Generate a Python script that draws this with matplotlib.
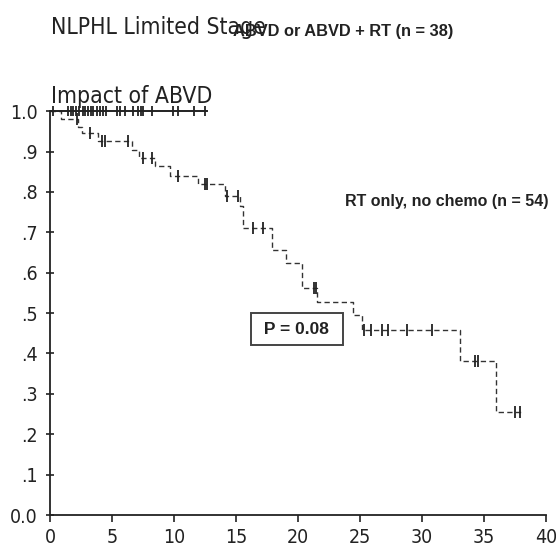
import numpy as np
import matplotlib
matplotlib.use("Agg")
import matplotlib.pyplot as plt

# Kaplan-Meier data, months on the x axis
abvd_times = [0, 12.7]
abvd_surv = [1.0, 1.0]
abvd_censor = [0.25, 1.45, 1.7, 1.85, 2.1, 2.35, 2.65, 2.8, 3.05, 3.3, 3.45, 3.8,
               4.05, 4.3, 4.5, 5.4, 5.65, 6.05, 6.7, 7.1, 7.35, 7.5, 8.2, 9.9,
               10.3, 11.6, 12.5]

rt_times = [0, 0.9, 2.25, 2.6, 3.9, 6.6, 7.2, 8.5, 9.7, 11.9, 14.1, 15.3, 15.6,
            17.9, 19.0, 20.3, 21.5, 24.4, 25.2, 33.1, 36.0, 38.1]
rt_surv = [1.0, 0.98, 0.96, 0.945, 0.925, 0.905, 0.885, 0.865, 0.84, 0.82, 0.79,
           0.765, 0.71, 0.655, 0.625, 0.562, 0.527, 0.495, 0.458, 0.382, 0.255,
           0.255]
rt_censor = [2.2, 3.2, 4.2, 4.4, 6.3, 7.5, 8.2, 10.3, 12.5, 12.7, 14.3, 15.2,
             16.4, 17.2, 21.3, 21.45, 25.3, 25.9, 26.8, 27.3, 28.8, 30.8, 34.3,
             34.5, 37.5, 37.9]

xticks = [0, 5, 10, 15, 20, 25, 30, 35, 40]
yticks = [0.0, 0.1, 0.2, 0.3, 0.4, 0.5, 0.6, 0.7, 0.8, 0.9, 1.0]
ylabels = ["0.0", ".1", ".2", ".3", ".4", ".5", ".6", ".7", ".8", ".9", "1.0"]


def surv_at(times, surv, t):
    # value of the step curve at time t
    idx = np.searchsorted(times, t, side="right") - 1
    return np.asarray(surv)[idx]


ink = "#222222"
arial = ["Liberation Sans Narrow", "Liberation Sans"]

fig = plt.figure(figsize=(5.56, 5.48), dpi=100)
ax = fig.add_axes([0.0899, 0.0602, 0.892, 0.737])

# RT only curve (dashed) with censor ticks
ax.step(rt_times, rt_surv, where="post", color="#333333", lw=1.0,
        dashes=(3.8, 2.4), clip_on=False, zorder=2)
ax.plot(rt_censor, surv_at(rt_times, rt_surv, rt_censor), ls="none",
        marker="|", ms=8.5, mew=1.3, color=ink, clip_on=False, zorder=3)

# ABVD curve (solid)
ax.step(abvd_times, abvd_surv, where="post", color=ink, lw=1.4,
        clip_on=False, zorder=4)
ax.plot(abvd_censor, surv_at(abvd_times, abvd_surv, abvd_censor), ls="none",
        marker="|", ms=7, mew=1.3, color=ink, clip_on=False, zorder=5)

ax.set_xlim(0, 40)
ax.set_ylim(0, 1.0)
ax.set_xticks(xticks)
ax.set_yticks(yticks)
ax.set_yticklabels(ylabels)
for s in ["top", "right"]:
    ax.spines[s].set_visible(False)
for s in ["left", "bottom"]:
    ax.spines[s].set_linewidth(1.3)
    ax.spines[s].set_color(ink)
ax.tick_params(axis="x", direction="out", length=5, width=1.2, pad=4,
               colors=ink, labelsize=14)
ax.tick_params(axis="y", direction="inout", length=6, width=1.2, pad=6,
               colors=ink, labelsize=14)
for lab in ax.get_xticklabels() + ax.get_yticklabels():
    lab.set_fontstretch("condensed")

# titles
fig.text(0.092, 1 - 34 / 548, "NLPHL Limited Stage", fontsize=16.5,
         fontstretch="condensed", color=ink, va="baseline")
fig.text(0.092, 1 - 103 / 548, "Impact of ABVD", fontsize=16.5,
         fontstretch="condensed", color=ink, va="baseline")

# group labels
ax.text(14.8, 1.186, "ABVD or ABVD + RT (n = 38)", family=arial,
        fontweight="bold", fontsize=11.8, color=ink, va="baseline",
        clip_on=False)
ax.text(23.8, 0.777, "RT only, no chemo (n = 54)", family=arial,
        fontweight="bold", fontsize=11.5, color=ink, va="center",
        clip_on=False)
ax.text(19.9, 0.46, " P = 0.08 ", family=arial, fontweight="bold",
        fontsize=12.5, color=ink, ha="center", va="center",
        bbox=dict(boxstyle="square,pad=0.5", fc="white", ec="#444444", lw=1.4))

fig.savefig("out.png", dpi=100)
